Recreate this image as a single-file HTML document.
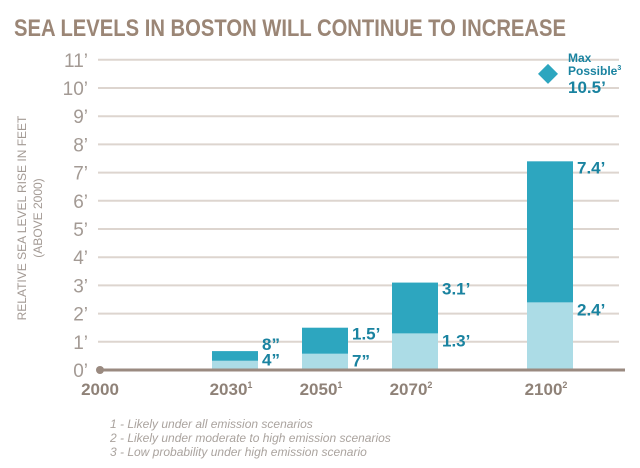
<!DOCTYPE html>
<html><head><meta charset="utf-8"><style>
body{margin:0;background:#fff;}
svg{display:block;font-family:"Liberation Sans",sans-serif;}
</style></head><body>
<svg id="chart" width="640" height="468" viewBox="0 0 640 468">
<text x="14" y="36" font-size="24" font-weight="bold" fill="#9b8676" textLength="552" lengthAdjust="spacingAndGlyphs">SEA LEVELS IN BOSTON WILL CONTINUE TO INCREASE</text>
<g id="grid"></g>
<g id="ylabels"></g>
<g transform="translate(26,218) rotate(-90)" fill="#a39a94" font-size="12" text-anchor="middle">
<text x="0" y="0">RELATIVE SEA LEVEL RISE IN FEET</text>
<text x="0" y="16">(ABOVE 2000)</text>
</g>
<g id="bars"></g>
<line x1="100" y1="370" x2="625" y2="370" stroke="#9a8a80" stroke-width="3"/>
<circle cx="100" cy="370" r="4" fill="#9a8a80"/>
<g id="xlabels" font-size="17" font-weight="bold" fill="#8f8278"></g>
<g id="maxmark"></g>
<g font-size="12" font-style="italic" fill="#aaa39e">
<text x="110" y="428">1 - Likely under all emission scenarios</text>
<text x="110" y="442">2 - Likely under moderate to high emission scenarios</text>
<text x="110" y="456">3 - Low probability under high emission scenario</text>
</g>
</svg>
<script>
const years=["2030","2050","2070","2100"];
const sups=["1","1","2","2"];
const likelyLow=[0.33,0.58,1.3,2.4];
const likelyHigh=[0.67,1.5,3.1,7.4];
const lowLabels=["4\u201D","7\u201D","1.3\u2019","2.4\u2019"];
const highLabels=["8\u201D","1.5\u2019","3.1\u2019","7.4\u2019"];
const yearValues=[2030,2050,2070,2100];
const maxPossible=10.5;
const yTicks=[0,1,2,3,4,5,6,7,8,9,10,11];
const NS="http://www.w3.org/2000/svg";
function y(v){return 370-v*28.2;}
function x(yr){return 100+(yr-2000)*4.5;}
function mk(tag,attrs,parent,txt){const e=document.createElementNS(NS,tag);for(const k in attrs)e.setAttribute(k,attrs[k]);if(txt!==undefined)e.textContent=txt;parent.appendChild(e);return e;}
const grid=document.getElementById('grid'),yl=document.getElementById('ylabels');
yTicks.forEach(t=>{
 if(t>0){const l=mk('line',{x1:98,x2:619,y1:y(t),y2:y(t),stroke:'#ddd5cf','stroke-width':2},grid);
 
 }
 const tx=mk('text',{x:88,y:y(t)+7,'font-size':19,fill:'#a39a94','text-anchor':'end'},yl,t+'\u2019');
 
 
});
const bars=document.getElementById('bars'),xl=document.getElementById('xlabels');
const w=46;
years.forEach((yr,i)=>{
 const cx=x(yearValues[i]);const x0=cx-w/2;
 const r1=mk('rect',{x:x0,y:y(likelyHigh[i]),width:w,height:y(0)-y(likelyHigh[i]),fill:'#2da6bf'},bars);
 
 
 const r2=mk('rect',{x:x0,y:y(likelyLow[i]),width:w,height:y(0)-y(likelyLow[i]),fill:'#acdce6'},bars);
 
 
 const t1=mk('text',{x:x0+w+4,y:y(likelyHigh[i])+(i==0?-1:12),'font-size':17,'font-weight':'bold',fill:'#1a83a0'},bars,highLabels[i]);
 
 
 const t2=mk('text',{x:x0+w+4,y:y(likelyLow[i])+(i==0?5:13),'font-size':17,'font-weight':'bold',fill:'#1a83a0'},bars,lowLabels[i]);
 
 
 const xt=mk('text',{x:cx-4,y:395,'text-anchor':'middle'},xl,yr);
 
 
 mk('tspan',{'font-size':9,dy:-7},xt,sups[i]);
});
const x2000=mk('text',{x:100,y:395,'text-anchor':'middle'},xl,'2000');


const mm=document.getElementById('maxmark');
const my=y(maxPossible),mx=548;
const d=mk('polygon',{points:`${mx},${my-10} ${mx+10},${my} ${mx},${my+10} ${mx-10},${my}`,fill:'#2da6bf'},mm);


const g=mk('g',{'font-weight':'bold',fill:'#1a83a0'},mm);
mk('text',{x:568,y:my-12,'font-size':12},g,'Max');
const p=mk('text',{x:568,y:my+1,'font-size':12},g,'Possible');
mk('tspan',{'font-size':7,dy:-5},p,'3');
mk('text',{x:568,y:my+19,'font-size':17},g,'10.5\u2019');
</script>
</body></html>
